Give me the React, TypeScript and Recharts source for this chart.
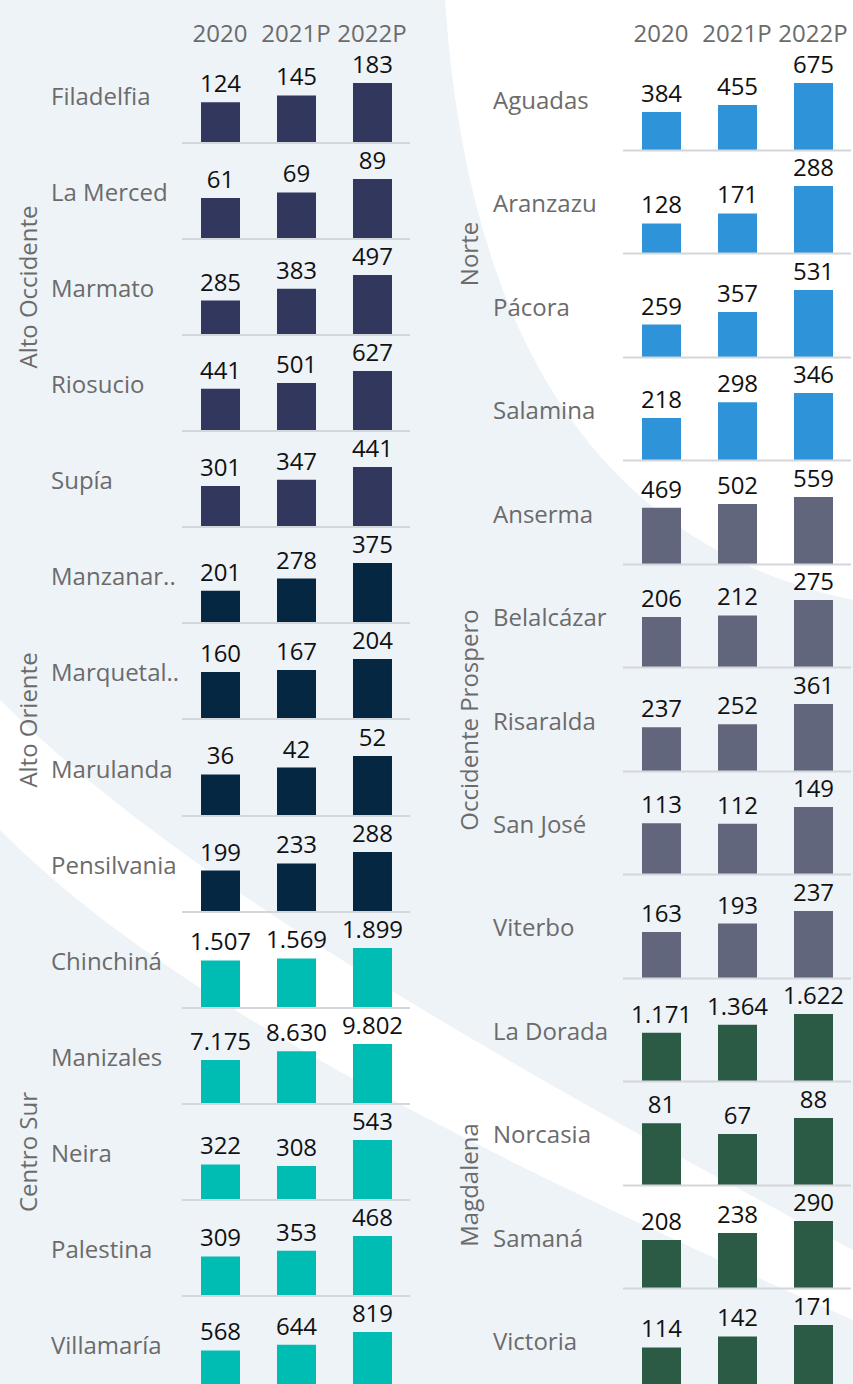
import React from 'react';
import { BarChart, Bar, XAxis, YAxis, LabelList, ReferenceLine } from 'recharts';

const years = ['2020', '2021P', '2022P'];

// left column
const leftNames = ['Filadelfia', 'La Merced', 'Marmato', 'Riosucio', 'Supía', 'Manzanar..', 'Marquetal..', 'Marulanda', 'Pensilvania', 'Chinchiná', 'Manizales', 'Neira', 'Palestina', 'Villamaría'];
const left2020 = [124, 61, 285, 441, 301, 201, 160, 36, 199, 1507, 7175, 322, 309, 568];
const left2021 = [145, 69, 383, 501, 347, 278, 167, 42, 233, 1569, 8630, 308, 353, 644];
const left2022 = [183, 89, 497, 627, 441, 375, 204, 52, 288, 1899, 9802, 543, 468, 819];
const leftGroups = [
  { name: 'Alto Occidente', rows: 5, color: '#31375d' },
  { name: 'Alto Oriente', rows: 4, color: '#052741' },
  { name: 'Centro Sur', rows: 5, color: '#00bdb4' },
];

// right column
const rightNames = ['Aguadas', 'Aranzazu', 'Pácora', 'Salamina', 'Anserma', 'Belalcázar', 'Risaralda', 'San José', 'Viterbo', 'La Dorada', 'Norcasia', 'Samaná', 'Victoria'];
const right2020 = [384, 128, 259, 218, 469, 206, 237, 113, 163, 1171, 81, 208, 114];
const right2021 = [455, 171, 357, 298, 502, 212, 252, 112, 193, 1364, 67, 238, 142];
const right2022 = [675, 288, 531, 346, 559, 275, 361, 149, 237, 1622, 88, 290, 171];
const rightGroups = [
  { name: 'Norte', rows: 4, color: '#2e93d8' },
  { name: 'Occidente Prospero', rows: 5, color: '#62667d' },
  { name: 'Magdalena', rows: 4, color: '#2c5b45' },
];

const TOP = 47;
const TOTAL = 1345;
const CHART_W = 228;
const FONT = 24;

const fmt = (v: any) => String(v).replace(/\B(?=(\d{3})+(?!\d))/g, '.');

function HeaderChart() {
  const data = years.map((y) => ({ year: y, v: 0 }));
  return (
    <BarChart width={CHART_W} height={TOP + 20} data={data} margin={{ top: 0, right: 0, bottom: 20, left: 0 }}>
      <XAxis
        dataKey="year"
        height={30}
        axisLine={false}
        tickLine={false}
        interval={0}
        tick={{ fontSize: FONT, fill: '#6b6b6b' }}
      />
      <YAxis hide domain={[0, 1]} />
      <Bar dataKey="v" fill="none" isAnimationActive={false} />
    </BarChart>
  );
}

function RowChart({ values, color, height }: { values: number[]; color: string; height: number }) {
  const data = years.map((y, i) => ({ year: y, value: values[i] }));
  return (
    <BarChart width={CHART_W} height={height + 2} data={data} margin={{ top: 36, right: 0, bottom: 2, left: 0 }}>
      <XAxis dataKey="year" hide />
      <YAxis hide domain={[0, 'dataMax']} />
      <Bar dataKey="value" fill={color} barSize={39} isAnimationActive={false}>
        <LabelList dataKey="value" position="top" offset={10} formatter={fmt} fill="#111111" fontSize={FONT} />
      </Bar>
      <ReferenceLine y={0} stroke="#d3d6da" strokeWidth={2} />
    </BarChart>
  );
}

function Column({ names, a, b, c, groups, groupX, labelX, chartX }: any) {
  const pitch = TOTAL / names.length;
  const colors: string[] = [];
  groups.forEach((g: any) => {
    for (let i = 0; i < g.rows; i++) colors.push(g.color);
  });
  let start = 0;
  const groupLabels = groups.map((g: any) => {
    const cy = TOP + (start + g.rows / 2) * pitch;
    start += g.rows;
    return (
      <div
        key={g.name}
        style={{
          position: 'absolute',
          left: groupX,
          top: cy,
          transform: 'translate(-50%, -50%) rotate(-90deg)',
          whiteSpace: 'nowrap',
          fontSize: FONT,
          color: '#6b6b6b',
        }}
      >
        {g.name}
      </div>
    );
  });
  return (
    <>
      <div style={{ position: 'absolute', left: chartX, top: 0 }}>
        <HeaderChart />
      </div>
      {groupLabels}
      {names.map((n: string, i: number) => (
        <React.Fragment key={n}>
          <div
            style={{
              position: 'absolute',
              left: labelX,
              top: TOP + (i + 0.5) * pitch,
              transform: 'translateY(-50%)',
              whiteSpace: 'nowrap',
              fontSize: FONT,
              color: '#6b6b6b',
            }}
          >
            {n}
          </div>
          <div style={{ position: 'absolute', left: chartX, top: TOP + i * pitch }}>
            <RowChart values={[a[i], b[i], c[i]]} color={colors[i]} height={pitch} />
          </div>
        </React.Fragment>
      ))}
    </>
  );
}

export default function App() {
  return (
    <div
      style={{
        position: 'absolute',
        left: 0,
        top: 0,
        width: 853,
        height: 1384,
        overflow: 'hidden',
        background: '#eef3f8',
        fontFamily: '"Open Sans", sans-serif',
      }}
    >
      <svg width={853} height={1384} style={{ position: 'absolute', left: 0, top: 0 }}>
        <path d="M445,0 Q480,520 853,600 L853,0 Z" fill="#ffffff" />
        <path d="M0,700 C150,850 400,1010 853,1250 L853,1320 C400,1120 150,980 0,830 Z" fill="#ffffff" />
      </svg>
      <Column
        names={leftNames}
        a={left2020}
        b={left2021}
        c={left2022}
        groups={leftGroups}
        groupX={27}
        labelX={51}
        chartX={182}
      />
      <Column
        names={rightNames}
        a={right2020}
        b={right2021}
        c={right2022}
        groups={rightGroups}
        groupX={468}
        labelX={493}
        chartX={623}
      />
    </div>
  );
}
